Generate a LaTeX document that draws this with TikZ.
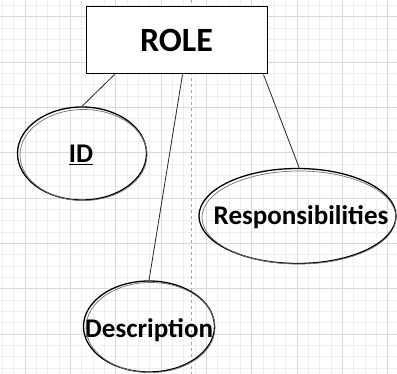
\documentclass[tikz,border=0pt]{standalone}
\usepackage{fontspec}
\setmainfont{Carlito}
\usetikzlibrary{shapes.geometric}
\definecolor{gridminor}{HTML}{EEEEEE}
\definecolor{gridmajor}{HTML}{D9D9D9}
\tikzset{
  entity/.style={draw=black, fill=white, line width=1pt, rectangle, minimum width=181pt, minimum height=67pt, inner sep=0pt, font=\fontsize{34}{36}\selectfont\bfseries},
  attr/.style={draw=black, line width=1.3pt, ellipse, inner sep=0pt},
  attrtext/.style={font=\fontsize{27}{29}\selectfont\bfseries, inner sep=0pt},
  sketch/.style={draw=black!55, line width=0.7pt},
  link/.style={draw=black!85, line width=0.8pt},
  guide/.style={draw=black!35, dashed, dash pattern=on 3pt off 3pt, line width=0.5pt}
}
\begin{document}
\begin{tikzpicture}[x=1pt,y=-1pt]
\useasboundingbox (0,0) rectangle (397,374);
\fill[white] (0,0) rectangle (397,374);
% minor grid
\foreach \i in {0,...,35} {
  \draw[gridminor, line width=0.6pt] ({2.33+11.33*\i},0) -- ({2.33+11.33*\i},374);
}
\foreach \i in {0,...,33} {
  \draw[gridminor, line width=0.6pt] (0,{5.37+11.33*\i}) -- (397,{5.37+11.33*\i});
}
% major grid
\foreach \i in {0,...,8} {
  \draw[gridmajor, line width=0.7pt] ({25+45.33*\i},0) -- ({25+45.33*\i},374);
}
\foreach \i in {0,...,8} {
  \draw[gridmajor, line width=0.7pt] (0,{16.7+45.33*\i}) -- (397,{16.7+45.33*\i});
}
% dashed guide
\coordinate (gtop) at (191,0);
\coordinate (gbot) at (191,374);
\draw[guide] (gtop) -- (gbot);

% entity
\node[entity] (role) at (176.5,40.5) {ROLE};

% attributes
\node[attr, minimum width=129pt, minimum height=93pt] (id) at (82,153.5) {};
\node[attr, minimum width=197pt, minimum height=95pt] (resp) at (297.5,216) {};
\node[attr, minimum width=131pt, minimum height=91pt] (desc) at (149,326.5) {};
\node[attrtext] (idt) at (81,155) {\underline{ID}};
\node[attrtext] (respt) at (301,217) {Responsibilities};
\node[attrtext] (desct) at (149,330) {Description};

% sketchy second strokes
\draw[sketch] ([shift={(1.5,1.5)}]id.center) ellipse [x radius=63.5pt, y radius=45.5pt];
\draw[sketch] ([shift={(1.5,1.5)}]resp.center) ellipse [x radius=97pt, y radius=46.5pt];
\draw[sketch] ([shift={(1.5,1)}]desc.center) ellipse [x radius=64.5pt, y radius=45pt];

% connectors
\draw[link] ([xshift=29pt]role.south west) -- (id.north);
\draw[link] ([xshift=97pt]role.south west) -- (desc.north);
\draw[link] ([xshift=178pt]role.south west) -- (resp.88);
\end{tikzpicture}
\end{document}
